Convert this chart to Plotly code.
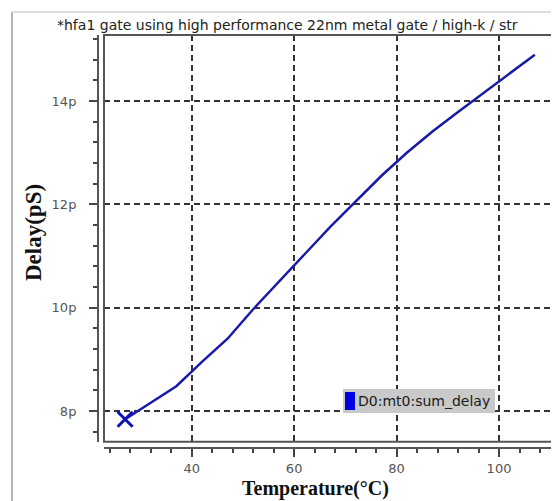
import plotly.graph_objects as go

# ---- data ----
temperature = [27, 32, 37, 42, 47, 52, 57, 62, 67, 72, 77, 82, 87, 92, 97, 102, 107]
delay_ps = [7.84, 8.16, 8.48, 8.95, 9.40, 9.97, 10.51, 11.03, 11.56, 12.06, 12.55,
            13.00, 13.41, 13.79, 14.16, 14.54, 14.90]
x_ticks = [40, 60, 80, 100]
y_ticks = [8, 10, 12, 14]
y_tick_labels = ["8p", "10p", "12p", "14p"]
series_name = "D0:mt0:sum_delay"
title_text = "*hfa1 gate using high performance 22nm metal gate / high-k / str"

# page is rendered with the default 8px body margin
OFF = 8
PAGE_W, PAGE_H = 559, 501
W, H = PAGE_W - OFF, PAGE_H - OFF
# plot paper area in page pixels
P_LEFT, P_RIGHT, P_TOP, P_BOTTOM = 98, 555, 35, 448
ML, MR, MT, MB = P_LEFT - OFF, PAGE_W - P_RIGHT, P_TOP - OFF, PAGE_H - P_BOTTOM
PW, PH = P_RIGHT - P_LEFT, P_BOTTOM - P_TOP


def px(x):
    return (x - P_LEFT) / PW


def py(y):
    return (P_BOTTOM - y) / PH


blue = "#1a1aa8"

fig = go.Figure()
fig.add_trace(go.Scatter(
    x=temperature, y=delay_ps, mode="lines",
    name=series_name, showlegend=False,
    line=dict(color=blue, width=2.5),
))
fig.add_trace(go.Scatter(
    x=temperature[:1], y=delay_ps[:1], mode="markers",
    showlegend=False, hoverinfo="skip",
    marker=dict(symbol="x-thin", size=15, line=dict(color="#1010b8", width=3)),
))

frame_color = "#555555"
shapes = [
    # outer window border
    dict(type="line", xref="paper", yref="paper", x0=px(12), x1=px(12), y0=py(501), y1=py(12),
         line=dict(color="#b5b5b5", width=2)),
    dict(type="line", xref="paper", yref="paper", x0=px(12), x1=px(559), y0=py(12), y1=py(12),
         line=dict(color="#d2d2d2", width=1.5)),
    # plot frame
    dict(type="rect", xref="paper", yref="paper", x0=px(104), x1=px(555), y0=py(441.7), y1=py(35),
         line=dict(color=frame_color, width=2), layer="above"),
    # legend box
    dict(type="rect", xref="paper", yref="paper", x0=px(343), x1=px(495), y0=py(413), y1=py(389),
         fillcolor="#c9c9c9", line=dict(width=0), layer="above"),
    dict(type="rect", xref="paper", yref="paper", x0=px(345), x1=px(355), y0=py(410), y1=py(392),
         fillcolor="#0000e0", line=dict(width=0), layer="above"),
]

annotations = [
    dict(text=title_text, xref="paper", yref="paper", x=px(287), y=py(25),
         xanchor="center", yanchor="middle", showarrow=False,
         font=dict(family="DejaVu Sans", size=14, color="#222222")),
    dict(text="Temperature(°C)", xref="paper", yref="paper", x=px(315.5), y=py(489),
         xanchor="center", yanchor="middle", showarrow=False,
         font=dict(family="Liberation Serif", size=20, color="#111111", weight="bold")),
    dict(text="Delay(pS)", xref="paper", yref="paper", x=px(33), y=py(233),
         xanchor="center", yanchor="middle", showarrow=False, textangle=-90,
         font=dict(family="Liberation Serif", size=23, color="#111111", weight="bold")),
    dict(text=series_name, xref="paper", yref="paper", x=px(356), y=py(401),
         xanchor="left", yanchor="middle", showarrow=False,
         font=dict(family="DejaVu Sans", size=14, color="#1a1a1a")),
]

grid_dash = "6px,4px"
tick_font = dict(family="DejaVu Sans", size=13, color="#555555")
fig.update_layout(
    width=W, height=H,
    margin=dict(l=ML, r=MR, t=MT, b=MB, pad=0),
    paper_bgcolor="white", plot_bgcolor="white",
    showlegend=False,
    shapes=shapes, annotations=annotations,
    xaxis=dict(
        domain=[px(104), 1], anchor="free", position=0,
        range=[22.88, 110.93],
        tickmode="array", tickvals=x_ticks, ticktext=[str(v) for v in x_ticks],
        ticks="outside", ticklen=8, tickwidth=1.5, tickcolor="#444444",
        minor=dict(dtick=4, tick0=0, ticks="outside", ticklen=4, tickwidth=1.5,
                   tickcolor="#444444", showgrid=False),
        showline=True, linecolor=frame_color, linewidth=2,
        showgrid=True, gridcolor="#333333", gridwidth=1.5, griddash=grid_dash,
        zeroline=False,
        tickfont=tick_font,
        ticklabelstandoff=0,
    ),
    yaxis=dict(
        domain=[py(441.7), 1], anchor="free", position=0,
        range=[7.406, 15.28],
        tickmode="array", tickvals=y_ticks, ticktext=y_tick_labels,
        ticks="outside", ticklen=8, tickwidth=1.5, tickcolor="#444444",
        minor=dict(dtick=0.4, tick0=0, ticks="outside", ticklen=4, tickwidth=1.5,
                   tickcolor="#444444", showgrid=False),
        showline=True, linecolor=frame_color, linewidth=2,
        showgrid=True, gridcolor="#333333", gridwidth=1.5, griddash=grid_dash,
        zeroline=False,
        tickfont=tick_font,
        ticklabelstandoff=10,
    ),
)

fig.write_html("out.html")
